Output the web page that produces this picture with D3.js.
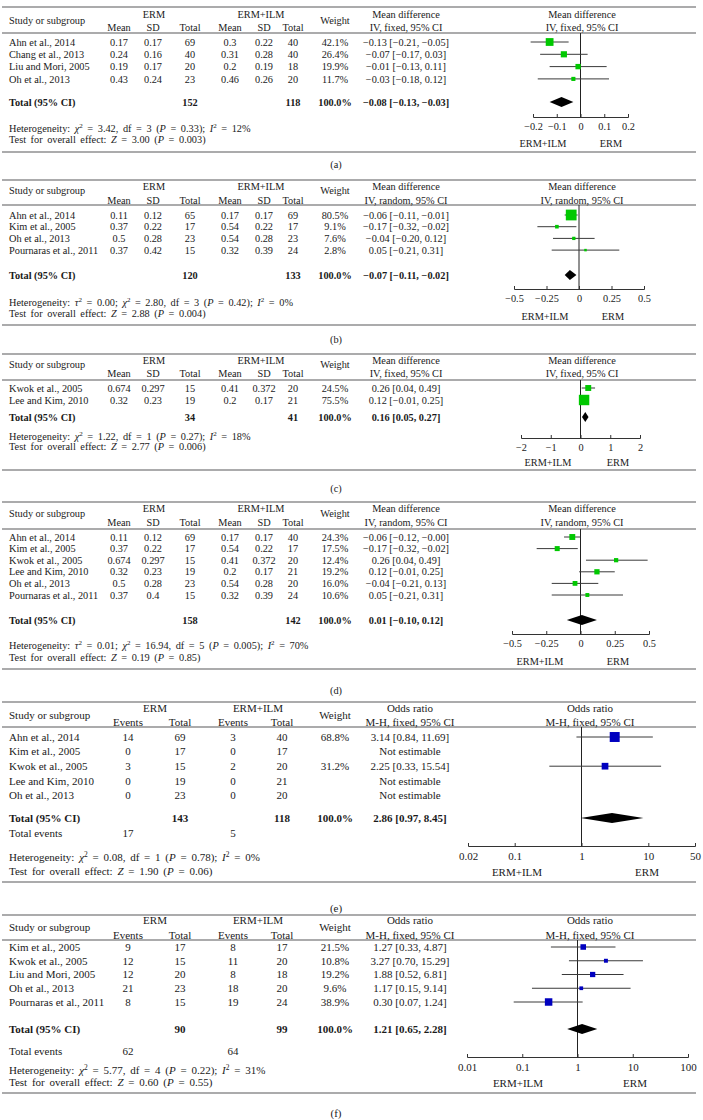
<!DOCTYPE html>
<html>
<head>
<meta charset="utf-8">
<script src="https://cdn.jsdelivr.net/npm/d3@7"></script>
<style>
  body { margin: 0; background: #fff; }
  svg text { font-family: "Liberation Serif", "DejaVu Serif", serif; fill: #1a1a1a; }
  .rule { stroke: #58595b; stroke-width: 1.1; }
  .ci { stroke: #3a3a3a; stroke-width: 1; }
  .ref { stroke: #222; stroke-width: 1; }
  .axis path, .axis line { stroke: #333; stroke-width: 1; }
  .axis text { fill: #1a1a1a; font-family: "Liberation Serif", serif; }
  .b { font-weight: bold; }
  .foot { word-spacing: 2px; }
</style>
</head>
<body>
<svg id="fig" width="703" height="1120"></svg>
<script>
// ---------- (a) mean difference, fixed ----------
var studiesA = ["Ahn et al., 2014", "Chang et al., 2013", "Liu and Mori, 2005", "Oh et al., 2013"];
var ermMeanA = [0.17, 0.24, 0.19, 0.43];
var ermSdA   = [0.17, 0.16, 0.17, 0.24];
var ermNA    = [69, 40, 20, 23];
var ilmMeanA = [0.3, 0.31, 0.2, 0.46];
var ilmSdA   = [0.22, 0.28, 0.19, 0.26];
var ilmNA    = [40, 40, 18, 20];
var weightA  = [42.1, 26.4, 19.9, 11.7];
var estA     = [-0.13, -0.07, -0.01, -0.03];
var loA      = [-0.21, -0.17, -0.13, -0.18];
var hiA      = [-0.05, 0.03, 0.11, 0.12];
var totNA    = [152, 118];
var sumA     = [-0.08, -0.13, -0.03];
var ticksA   = [-0.2, -0.1, 0, 0.1, 0.2];
var hetA  = "Heterogeneity: _χ_^2 = 3.42, df = 3 (_P_ = 0.33); _I_^2 = 12%";
var testA = "Test for overall effect: _Z_ = 3.00 (_P_ = 0.003)";

// ---------- (b) mean difference, random ----------
var studiesB = ["Ahn et al., 2014", "Kim et al., 2005", "Oh et al., 2013", "Pournaras et al., 2011"];
var ermMeanB = [0.11, 0.37, 0.5, 0.37];
var ermSdB   = [0.12, 0.22, 0.28, 0.42];
var ermNB    = [65, 17, 23, 15];
var ilmMeanB = [0.17, 0.54, 0.54, 0.32];
var ilmSdB   = [0.17, 0.22, 0.28, 0.39];
var ilmNB    = [69, 17, 23, 24];
var weightB  = [80.5, 9.1, 7.6, 2.8];
var estB     = [-0.06, -0.17, -0.04, 0.05];
var loB      = [-0.11, -0.32, -0.20, -0.21];
var hiB      = [-0.01, -0.02, 0.12, 0.31];
var totNB    = [120, 133];
var sumB     = [-0.07, -0.11, -0.02];
var ticksB   = [-0.5, -0.25, 0, 0.25, 0.5];
var hetB  = "Heterogeneity: _τ_^2 = 0.00; _χ_^2 = 2.80, df = 3 (_P_ = 0.42); _I_^2 = 0%";
var testB = "Test for overall effect: _Z_ = 2.88 (_P_ = 0.004)";

// ---------- (c) mean difference, fixed ----------
var studiesC = ["Kwok et al., 2005", "Lee and Kim, 2010"];
var ermMeanC = [0.674, 0.32];
var ermSdC   = [0.297, 0.23];
var ermNC    = [15, 19];
var ilmMeanC = [0.41, 0.2];
var ilmSdC   = [0.372, 0.17];
var ilmNC    = [20, 21];
var weightC  = [24.5, 75.5];
var estC     = [0.26, 0.12];
var loC      = [0.04, -0.01];
var hiC      = [0.49, 0.25];
var totNC    = [34, 41];
var sumC     = [0.16, 0.05, 0.27];
var ticksC   = [-2, -1, 0, 1, 2];
var hetC  = "Heterogeneity: _χ_^2 = 1.22, df = 1 (_P_ = 0.27); _I_^2 = 18%";
var testC = "Test for overall effect: _Z_ = 2.77 (_P_ = 0.006)";

// ---------- (d) mean difference, random ----------
var studiesD = ["Ahn et al., 2014", "Kim et al., 2005", "Kwok et al., 2005", "Lee and Kim, 2010", "Oh et al., 2013", "Pournaras et al., 2011"];
var ermMeanD = [0.11, 0.37, 0.674, 0.32, 0.5, 0.37];
var ermSdD   = [0.12, 0.22, 0.297, 0.23, 0.28, 0.4];
var ermND    = [69, 17, 15, 19, 23, 15];
var ilmMeanD = [0.17, 0.54, 0.41, 0.2, 0.54, 0.32];
var ilmSdD   = [0.17, 0.22, 0.372, 0.17, 0.28, 0.39];
var ilmND    = [40, 17, 20, 21, 20, 24];
var weightD  = [24.3, 17.5, 12.4, 19.2, 16.0, 10.6];
var estD     = [-0.06, -0.17, 0.26, 0.12, -0.04, 0.05];
var loD      = [-0.12, -0.32, 0.04, -0.01, -0.21, -0.21];
var hiD      = [-0.00, -0.02, 0.49, 0.25, 0.13, 0.31];
var totND    = [158, 142];
var sumD     = [0.01, -0.10, 0.12];
var ticksD   = [-0.5, -0.25, 0, 0.25, 0.5];
var hetD  = "Heterogeneity: _τ_^2 = 0.01; _χ_^2 = 16.94, df = 5 (_P_ = 0.005); _I_^2 = 70%";
var testD = "Test for overall effect: _Z_ = 0.19 (_P_ = 0.85)";

// ---------- (e) odds ratio ----------
var studiesE = ["Ahn et al., 2014", "Kim et al., 2005", "Kwok et al., 2005", "Lee and Kim, 2010", "Oh et al., 2013"];
var ermEvE   = [14, 0, 3, 0, 0];
var ermNE    = [69, 17, 15, 19, 23];
var ilmEvE   = [3, 0, 2, 0, 0];
var ilmNE    = [40, 17, 20, 21, 20];
var weightE  = [68.8, null, 31.2, null, null];
var estE     = [3.14, null, 2.25, null, null];
var loE      = [0.84, null, 0.33, null, null];
var hiE      = [11.69, null, 15.54, null, null];
var totNE    = [143, 118];
var totEvE   = [17, 5];
var sumE     = [2.86, 0.97, 8.45];
var ticksE   = [0.02, 0.1, 1, 10, 50];
var hetE  = "Heterogeneity: _χ_^2 = 0.08, df = 1 (_P_ = 0.78); _I_^2 = 0%";
var testE = "Test for overall effect: _Z_ = 1.90 (_P_ = 0.06)";

// ---------- (f) odds ratio ----------
var studiesF = ["Kim et al., 2005", "Kwok et al., 2005", "Liu and Mori, 2005", "Oh et al., 2013", "Pournaras et al., 2011"];
var ermEvF   = [9, 12, 12, 21, 8];
var ermNF    = [17, 15, 20, 23, 15];
var ilmEvF   = [8, 11, 8, 18, 19];
var ilmNF    = [17, 20, 18, 20, 24];
var weightF  = [21.5, 10.8, 19.2, 9.6, 38.9];
var estF     = [1.27, 3.27, 1.88, 1.17, 0.30];
var loF      = [0.33, 0.70, 0.52, 0.15, 0.07];
var hiF      = [4.87, 15.29, 6.81, 9.14, 1.24];
var totNF    = [90, 99];
var totEvF   = [62, 64];
var sumF     = [1.21, 0.65, 2.28];
var ticksF   = [0.01, 0.1, 1, 10, 100];
var hetF  = "Heterogeneity: _χ_^2 = 5.77, df = 4 (_P_ = 0.22); _I_^2 = 31%";
var testF = "Test for overall effect: _Z_ = 0.60 (_P_ = 0.55)";

// page layout of each panel (y of rows / rules, x range of the plot)
var layA = {top:7,   grp:14,  study:20,  sub:27,  hrule:33,  row0:42,  step:12.3, total:102,  het:128,  test:139,  axis:117,  dir:143,  bottom:152,  label:164,  x0:533, x1:628, dirL:543, dirR:611, font:10.3};
var layB = {top:180, grp:186, study:190, sub:200, hrule:205, row0:215, step:11.7, total:275,  het:302,  test:313,  axis:289,  dir:316,  bottom:325,  label:339,  x0:514, x1:644, dirL:545, dirR:613, font:10.3};
var layC = {top:354, grp:360, study:364, sub:373, hrule:380, row0:388, step:12,   total:417,  het:436,  test:446,  axis:438,  dir:462,  bottom:470,  label:488,  x0:521, x1:640, dirL:548, dirR:618, font:10.3};
var layD = {top:502, grp:508, study:513, sub:522, hrule:529, row0:537, step:11.6, total:620,  het:645,  test:657,  axis:634,  dir:661,  bottom:669,  label:690,  x0:512, x1:649, dirL:540, dirR:618, font:10.3};
var layE = {top:702, grp:708, study:715, sub:722, hrule:727, row0:737, step:14.6, total:818,  totEv:833,  het:857,  test:871,  axis:846,  dir:872,  bottom:882,  label:908,  x0:468, x1:695, dirL:517, dirR:647, font:11};
var layF = {top:915, grp:920, study:927, sub:935, hrule:940, row0:947, step:13.75, total:1029, totEv:1051, het:1070, test:1082, axis:1057, dir:1083, bottom:1093, label:1113, x0:467, x1:688, dirL:518, dirR:635, font:11};

var panels = [
  {id:"(a)", kind:"md", model:"IV, fixed, 95% CI",  studies:studiesA, cols:[ermMeanA, ermSdA, ermNA, ilmMeanA, ilmSdA, ilmNA], weight:weightA, est:estA, lo:loA, hi:hiA, totN:totNA, sum:sumA, ticks:ticksA, het:hetA, test:testA, lay:layA},
  {id:"(b)", kind:"md", model:"IV, random, 95% CI", studies:studiesB, cols:[ermMeanB, ermSdB, ermNB, ilmMeanB, ilmSdB, ilmNB], weight:weightB, est:estB, lo:loB, hi:hiB, totN:totNB, sum:sumB, ticks:ticksB, het:hetB, test:testB, lay:layB},
  {id:"(c)", kind:"md", model:"IV, fixed, 95% CI",  studies:studiesC, cols:[ermMeanC, ermSdC, ermNC, ilmMeanC, ilmSdC, ilmNC], weight:weightC, est:estC, lo:loC, hi:hiC, totN:totNC, sum:sumC, ticks:ticksC, het:hetC, test:testC, lay:layC},
  {id:"(d)", kind:"md", model:"IV, random, 95% CI", studies:studiesD, cols:[ermMeanD, ermSdD, ermND, ilmMeanD, ilmSdD, ilmND], weight:weightD, est:estD, lo:loD, hi:hiD, totN:totND, sum:sumD, ticks:ticksD, het:hetD, test:testD, lay:layD},
  {id:"(e)", kind:"or", model:"M-H, fixed, 95% CI", studies:studiesE, cols:[ermEvE, ermNE, ilmEvE, ilmNE], weight:weightE, est:estE, lo:loE, hi:hiE, totN:totNE, totEv:totEvE, sum:sumE, ticks:ticksE, het:hetE, test:testE, lay:layE},
  {id:"(f)", kind:"or", model:"M-H, fixed, 95% CI", studies:studiesF, cols:[ermEvF, ermNF, ilmEvF, ilmNF], weight:weightF, est:estF, lo:loF, hi:hiF, totN:totNF, totEv:totEvF, sum:sumF, ticks:ticksF, het:hetF, test:testF, lay:layF}
];

var svg = d3.select("#fig");

var neg = function(v) { return v < 0 || Object.is(v, -0); };
var fmt2 = function(v) { return (neg(v) ? "\u2212" : "") + Math.abs(v).toFixed(2); };
var fmtV = function(v) { return (v < 0 ? "\u2212" : "") + String(Math.abs(v)); };
var fmtCI = function(e, l, h) { return fmt2(e) + " [" + fmt2(l) + ", " + fmt2(h) + "]"; };

// tiny markup: _x_ italic, ^2 superscript
function rich(sel, str) {
  var parts = str.split(/(_[^_]+_|\^\d)/).filter(Boolean);
  var back = 0;
  parts.forEach(function(p) {
    var t = sel.append("tspan");
    if (p[0] === "^") {
      t.text(p.slice(1)).attr("dy", -3.5).style("font-size", "0.68em");
      back = 3.5;
      return;
    }
    if (p[0] === "_") t.text(p.slice(1, -1)).style("font-style", "italic");
    else t.text(p);
    if (back) { t.attr("dy", back); back = 0; }
  });
}

function txt(g, x, y, s, anchor, cls) {
  return g.append("text").attr("x", x).attr("y", y).attr("dy", "0.35em")
    .attr("text-anchor", anchor || "middle").attr("class", cls || null).text(s);
}

panels.forEach(drawPanel);

function drawPanel(p) {
  var L = p.lay;
  var isOR = p.kind === "or";
  var g = svg.append("g").style("font-size", L.font + "px");

  var colX  = isOR ? [128, 180, 233, 282] : [119, 153, 190, 230, 264, 293];
  var subs  = isOR ? ["Events", "Total", "Events", "Total"] : ["Mean", "SD", "Total", "Mean", "SD", "Total"];
  var grpX  = isOR ? [155, 258] : [154, 261];
  var totCol = isOR ? [1, 3] : [2, 5];
  var wX = 335, estX = isOR ? 410 : 406, plotHX = isOR ? 590 : 582;
  var title = isOR ? "Odds ratio" : "Mean difference";

  // horizontal rules
  g.selectAll("line.rule").data([L.top, L.hrule, L.bottom]).enter()
    .append("line").attr("class", "rule")
    .attr("x1", 2).attr("x2", 696).attr("y1", function(d) { return d; }).attr("y2", function(d) { return d; });

  // header
  txt(g, 9, L.study, "Study or subgroup", "start");
  txt(g, grpX[0], L.grp, "ERM");
  txt(g, grpX[1], L.grp, "ERM+ILM");
  subs.forEach(function(s, i) { txt(g, colX[i], L.sub, s); });
  txt(g, wX, L.study, "Weight");
  txt(g, estX, L.grp, title);
  txt(g, estX, L.sub, p.model);
  txt(g, plotHX, L.grp, title);
  txt(g, plotHX, L.sub, p.model);

  var ry = d3.scaleLinear().domain([0, 1]).range([L.row0, L.row0 + L.step]);
  var x = (isOR ? d3.scaleLog() : d3.scaleLinear())
    .domain([p.ticks[0], p.ticks[p.ticks.length - 1]]).range([L.x0, L.x1]);
  var sz = d3.scaleSqrt().domain([0, 100]).range([0, 12]);

  // table rows
  p.studies.forEach(function(s, i) {
    var y = ry(i);
    txt(g, 9, y, s, "start");
    p.cols.forEach(function(c, j) { txt(g, colX[j], y, fmtV(c[i])); });
    if (p.weight[i] != null) {
      txt(g, wX, y, p.weight[i].toFixed(1) + "%");
      txt(g, estX, y, fmtCI(p.est[i], p.lo[i], p.hi[i]));
    } else {
      txt(g, estX, y, "Not estimable");
    }
  });

  // totals
  txt(g, 9, L.total, "Total (95% CI)", "start", "b");
  txt(g, colX[totCol[0]], L.total, p.totN[0], "middle", "b");
  txt(g, colX[totCol[1]], L.total, p.totN[1], "middle", "b");
  txt(g, wX, L.total, "100.0%", "middle", "b");
  txt(g, estX, L.total, fmtCI(p.sum[0], p.sum[1], p.sum[2]), "middle", "b");
  if (p.totEv) {
    txt(g, 9, L.totEv, "Total events", "start");
    txt(g, colX[0], L.totEv, p.totEv[0]);
    txt(g, colX[2], L.totEv, p.totEv[1]);
  }
  rich(txt(g, 9, L.het, "", "start", "foot"), p.het);
  rich(txt(g, 9, L.test, "", "start", "foot"), p.test);

  // plot: reference line
  var ref = isOR ? 1 : 0;
  g.append("line").attr("class", "ref")
    .attr("x1", x(ref)).attr("x2", x(ref)).attr("y1", L.hrule).attr("y2", L.axis);

  var idx = d3.range(p.studies.length).filter(function(i) { return p.est[i] != null; });
  g.selectAll("line.ci").data(idx).enter().append("line").attr("class", "ci")
    .attr("x1", function(i) { return x(p.lo[i]); })
    .attr("x2", function(i) { return x(p.hi[i]); })
    .attr("y1", function(i) { return ry(i); })
    .attr("y2", function(i) { return ry(i); });
  g.selectAll("rect.sq").data(idx).enter().append("rect").attr("class", "sq")
    .attr("fill", isOR ? "#0000bf" : "#00c800")
    .attr("x", function(i) { return x(p.est[i]) - Math.max(2.5, sz(p.weight[i])) / 2; })
    .attr("y", function(i) { return ry(i) - Math.max(2.5, sz(p.weight[i])) / 2; })
    .attr("width", function(i) { return Math.max(2.5, sz(p.weight[i])); })
    .attr("height", function(i) { return Math.max(2.5, sz(p.weight[i])); });

  // summary diamond
  var ty = L.total, h = 5;
  g.append("path").attr("fill", "#000")
    .attr("d", "M" + x(p.sum[1]) + "," + ty + "L" + x(p.sum[0]) + "," + (ty - h) +
               "L" + x(p.sum[2]) + "," + ty + "L" + x(p.sum[0]) + "," + (ty + h) + "Z");

  // axis
  var ax = d3.axisBottom(x).tickValues(p.ticks).tickSize(-3).tickPadding(6)
    .tickFormat(function(d) { return fmtV(d); });
  g.append("g").attr("class", "axis").attr("transform", "translate(0," + L.axis + ")")
    .call(ax).selectAll("text").style("font-size", L.font + "px");

  txt(g, L.dirL, L.dir, "ERM+ILM");
  txt(g, L.dirR, L.dir, "ERM");

  txt(g, 336, L.label, p.id);
}
</script>
</body>
</html>
